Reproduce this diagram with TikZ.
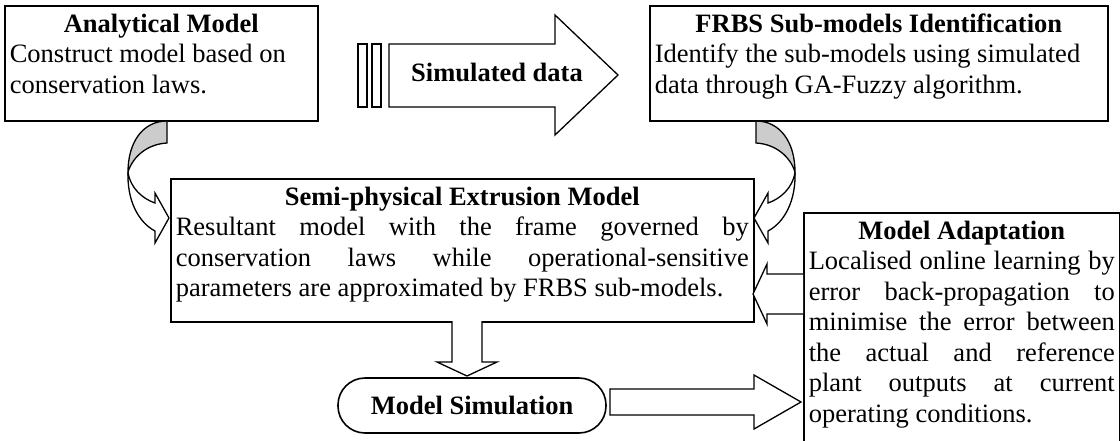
\documentclass[tikz,border=0pt]{standalone}
\usepackage{fontspec}
\setmainfont{Liberation Serif}
\usetikzlibrary{positioning,calc}

\tikzset{
  box/.style={draw, line width=1.6pt, fill=white, inner sep=5pt, anchor=north west},
  blockarr/.style={draw, line width=1.3pt, fill=white, line join=miter},
  curvback/.style={draw, line width=1.3pt, fill=black!20},
  curvfront/.style={draw, line width=1.3pt, fill=white},
  simbox/.style={draw, line width=1.6pt, rounded corners=27pt, minimum width=268pt,
    minimum height=55pt, inner sep=0pt},
}
\newcommand{\boxtxt}[3]{\parbox[c][#1pt][t]{#2pt}{#3}}
\newcommand{\fullline}[1]{\makebox[\linewidth][s]{#1}}

\begin{document}
\begin{tikzpicture}[x=1pt, y=-1pt, font=\fontsize{26.5}{30.5}\selectfont]
  \useasboundingbox (0,0) rectangle (1120,440);

  % Cajas principales
  \node[box] (anal) at (4,5) {\boxtxt{105}{303}{%
    {\centering\strut\textbf{Analytical Model}\par}
    Construct model based on\\ conservation laws.}};

  \node[box] (frbs) at (649,5) {\boxtxt{105}{448}{%
    {\centering\strut\textbf{FRBS Sub-models Identification}\par}
    Identify the sub-models using simulated\\ data through GA-Fuzzy algorithm.}};

  \node[box] (semi) at (170,178) {\boxtxt{133}{573}{%
    {\centering\strut\textbf{Semi-physical Extrusion Model}\par}
    \fullline{Resultant model with the frame governed by}\par
    \fullline{conservation laws while operational-sensitive}\par
    parameters are approximated by FRBS sub-models.}};

  \node[box] (adapt) at (803,212) {\boxtxt{240}{306}{%
    {\centering\strut\textbf{Model Adaptation}\par}
    \fullline{Localised online learning by}\par
    \fullline{error back-propagation to}\par
    \fullline{minimise the error between}\par
    \fullline{the actual and reference}\par
    \fullline{plant outputs at current}\par
    operating conditions.}};

  % Simulacion
  \node[simbox] (sim) at (472,405.5) {\textbf{Model Simulation}};

  % Flecha de datos simulados
  \draw[blockarr] (358,44) rectangle (367,107);
  \draw[blockarr] (372,44) rectangle (381,107);
  \draw[blockarr] (389,44) -- (555,44) -- (555,15) -- (618,75)
        -- (555,135) -- (555,107) -- (389,107) -- cycle;
  \node (simdata) at (497,72) {\textbf{Simulated data}};

  % Flecha curva izquierda (anal -> semi)
  \filldraw[curvback] (167,121) .. controls (143,121) and (128,142) .. (128,172)
        .. controls (133,156) and (148,144) .. (167,143) -- cycle;
  \filldraw[curvfront] (128,172) .. controls (127,200) and (138,222) .. (155,231)
        -- (155,243) -- (169,218) -- (155,193) -- (155,203)
        .. controls (143,199) and (130,188) .. (128,172) -- cycle;

  % Flecha curva derecha (frbs -> semi)
  \filldraw[curvback] (756,121) .. controls (780,121) and (795,142) .. (795,172)
        .. controls (790,156) and (775,144) .. (756,143) -- cycle;
  \filldraw[curvfront] (795,172) .. controls (796,200) and (785,222) .. (768,231)
        -- (768,243) -- (754,218) -- (768,193) -- (768,203)
        .. controls (780,199) and (793,188) .. (795,172) -- cycle;

  % semi -> sim
  \draw[blockarr] (452,321) -- (452,362) -- (437,362) -- (467,376)
        -- (497,362) -- (482,362) -- (482,321);

  % adapt -> semi
  \draw[blockarr] (803,274) -- (767,274) -- (767,264) -- (753,294)
        -- (767,324) -- (767,314) -- (803,314);

  % sim -> adapt
  \draw[blockarr] (610,389) -- (754,389) -- (754,375) -- (801,402)
        -- (754,429) -- (754,415) -- (610,415) -- cycle;
\end{tikzpicture}
\end{document}
